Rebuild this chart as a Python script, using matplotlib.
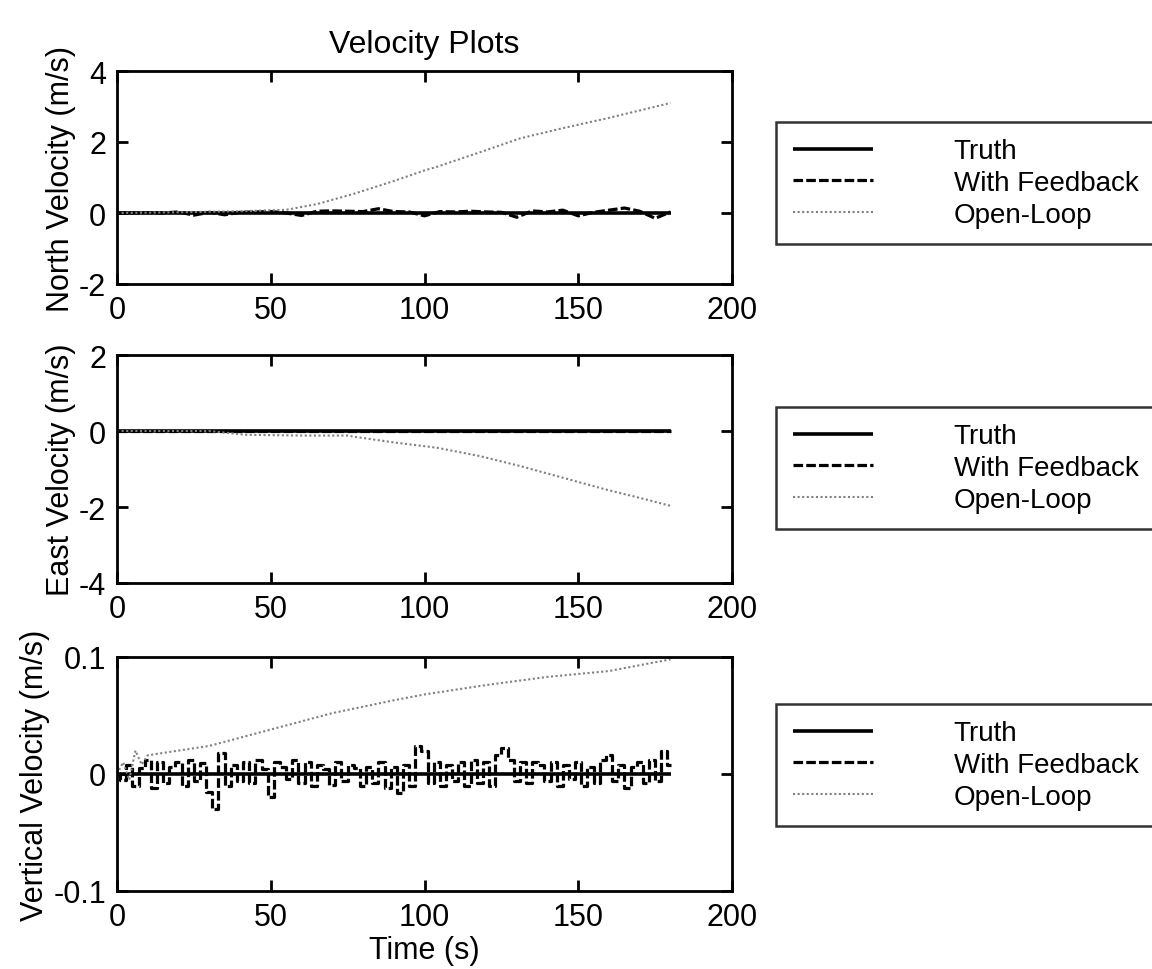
import matplotlib
matplotlib.use('Agg')
import matplotlib.pyplot as plt
import numpy as np

plt.rcParams['font.family'] = ['Liberation Sans', 'DejaVu Sans']

# north channel (m/s)
t_north_ol = [0, 20, 40, 55, 65, 77, 90, 100, 104, 118, 131, 145, 159, 172, 180]
north_ol = [0.0, 0.02, 0.05, 0.09, 0.25, 0.54, 0.9, 1.2, 1.3, 1.71, 2.1, 2.39, 2.66, 2.93, 3.1]
t_north_fb = [0, 5, 10, 15, 20, 25, 30, 35, 40, 45, 50, 55, 60, 65, 70, 75, 80, 85, 90,
              95, 100, 105, 110, 115, 120, 125, 130, 135, 140, 145, 150, 155, 160, 165,
              170, 175, 180]
north_fb = [0.0, 0.0, 0.01, 0.0, 0.03, -0.06, 0.02, -0.05, 0.02, 0.03, 0.04, 0.0, -0.07,
            0.05, 0.06, 0.05, 0.04, 0.12, 0.04, 0.03, -0.08, 0.04, 0.03, 0.05, 0.03, 0.02,
            -0.12, 0.06, 0.03, 0.08, -0.08, 0.02, 0.08, 0.14, 0.05, -0.15, 0.03]

# east channel (m/s)
t_east_ol = [0, 30, 42, 60, 75, 77, 90, 104, 118, 131, 145, 159, 172, 180]
east_ol = [0.0, 0.0, -0.1, -0.12, -0.12, -0.15, -0.3, -0.44, -0.66, -0.92, -1.23, -1.54, -1.8, -1.97]
t_east_fb = [0, 60, 120, 180]
east_fb = [0.0, 0.0, 0.0, 0.0]

# vertical channel (m/s)
t_vert_ol = [0, 2, 4, 6, 8, 10, 30, 50, 70, 90, 100, 120, 140, 160, 180]
vert_ol = [0.0, 0.01, -0.005, 0.02, 0.008, 0.016, 0.024, 0.038, 0.052, 0.063, 0.068,
           0.076, 0.083, 0.088, 0.098]
vert_fb = [0.0, -0.005, 0.008, -0.01, 0.005, 0.012,
           -0.012, 0.01, -0.008, 0.006, 0.01,
           -0.01, 0.012, -0.006, 0.009, -0.015,
           -0.03, 0.018, -0.01, 0.008, -0.006,
           0.01, -0.008, 0.012, 0.004, -0.02, 0.01, 0.006, -0.004, 0.012, -0.008,
           0.01, -0.01, 0.008, 0.004, -0.009, 0.01, -0.006, 0.008, 0.005, -0.01,
           0.006, -0.008, 0.01, -0.012, 0.006, -0.016, 0.008, -0.01, 0.024, 0.02,
           -0.008, 0.01, -0.01, 0.008, -0.006, 0.01, -0.01, 0.012, -0.008, 0.01,
           -0.01, 0.016, 0.022, 0.012, -0.006, 0.01, -0.008, 0.01, 0.008, -0.006,
           0.01, -0.01, 0.008, -0.004, 0.01, -0.01, 0.006, -0.008, 0.012, 0.016,
           -0.006, 0.008, -0.012, 0.006, 0.01, -0.008, 0.012, -0.006, 0.02, 0.008]
t_vert_fb = list(range(0, 2 * len(vert_fb), 2))

t_truth = [0, 180]
truth = [0, 0]

labels = ['Truth', 'With Feedback', 'Open-Loop']
ylabels = ['North Velocity (m/s)', 'East Velocity (m/s)', 'Vertical Velocity (m/s)']
ylims = [(-2, 4), (-4, 2), (-0.1, 0.1)]
yticks = [[-2, 0, 2, 4], [-4, -2, 0, 2], [-0.1, 0, 0.1]]
yticklabels = [['-2', '0', '2', '4'], ['-4', '-2', '0', '2'], ['-0.1', '0', '0.1']]

W, H = 1152, 970
fig = plt.figure(figsize=(W / 100, H / 100), dpi=100)

# axes boxes in pixels: left, top, right, bottom
boxes = [(117, 72, 732, 285), (117, 356, 732, 584), (117, 658, 732, 892)]
legend_y = [184, 469, 766]

data = [
    (t_north_fb, north_fb, t_north_ol, north_ol),
    (t_east_fb, east_fb, t_east_ol, east_ol),
    (t_vert_fb, vert_fb, t_vert_ol, vert_ol),
]

for i, (l, t, r, b) in enumerate(boxes):
    ax = fig.add_axes([l / W, 1 - b / H, (r - l) / W, (b - t) / H])
    tf, vf, to, vo = data[i]
    h1, = ax.plot(t_truth, truth, color='black', lw=2.6, solid_capstyle='butt')
    if i == 2:
        h2, = ax.plot(tf, vf, color='black', lw=2.3, ls=(0, (3, 1.0)), drawstyle='steps-mid')
    else:
        h2, = ax.plot(tf, vf, color='black', lw=2.3, ls=(0, (3, 1.0)))
    h3, = ax.plot(to, vo, color='#808080', lw=1.5, ls=(0, (1, 1.2)))
    ax.set_xlim(0, 200)
    ax.set_ylim(*ylims[i])
    ax.set_xticks([0, 50, 100, 150, 200])
    ax.set_yticks(yticks[i])
    ax.set_yticklabels(yticklabels[i])
    ax.tick_params(direction='in', length=8, width=2, top=True, right=True,
                   labelsize=22, pad=8)
    for s in ax.spines.values():
        s.set_linewidth(2)
    ax.set_ylabel(ylabels[i], fontsize=22, labelpad=2)
    if i == 0:
        ax.set_title('Velocity Plots', fontsize=23, pad=14)
    if i == 2:
        ax.set_xlabel('Time (s)', fontsize=22, labelpad=2)

    leg = fig.legend([h1, h2, h3], labels, loc='center left',
                     bbox_to_anchor=(776 / W, 1 - legend_y[i] / H),
                     fontsize=20, frameon=True, fancybox=False, handlelength=2.9,
                     handletextpad=2.9, labelspacing=0.2, borderpad=0.6,
                     borderaxespad=0)
    leg.get_frame().set_edgecolor('black')
    leg.get_frame().set_linewidth(1.8)

fig.savefig('out.png', dpi=100)
